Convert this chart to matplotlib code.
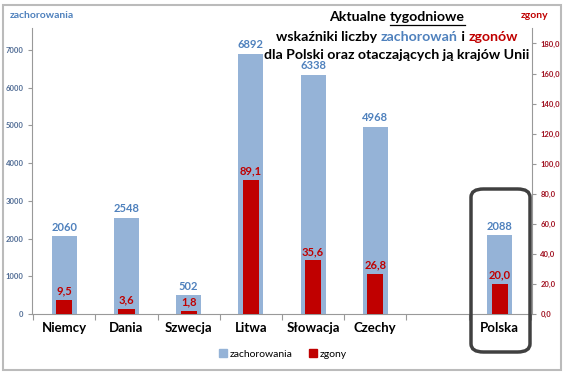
import matplotlib
matplotlib.use("Agg")
import matplotlib.pyplot as plt
from matplotlib.patches import FancyBboxPatch, Rectangle
import numpy as np

categories = ["Niemcy", "Dania", "Szwecja", "Litwa", "Słowacja", "Czechy", "", "Polska"]
cases = [2060, 2548, 502, 6892, 6338, 4968, None, 2088]
deaths = [9.5, 3.6, 1.8, 89.1, 35.6, 26.8, None, 20.0]
left_ticks = [0, 1000, 2000, 3000, 4000, 5000, 6000, 7000]
right_ticks = [0, 20, 40, 60, 80, 100, 120, 140, 160, 180]

BLUE_BAR = "#95B3D7"
RED_BAR = "#C00000"
BLUE_TXT = "#4F81BD"
RED_TXT = "#C00000"
FONT = "Lato"

plt.rcParams['font.family'] = [FONT, 'DejaVu Sans']

fig = plt.figure(figsize=(5.64, 3.73), dpi=100)
W, H = 564, 373
ax = fig.add_axes([32 / W, 1 - 314 / H, 500 / W, (314 - 28) / H])
ax2 = ax.twinx()

x = np.arange(len(categories))
cx = [i for i, v in enumerate(cases) if v is not None]
cv = [v for v in cases if v is not None]
dv = [deaths[i] for i in cx]

ax.bar(cx, cv, width=0.40, color=BLUE_BAR, zorder=2)
ax2.bar(cx, dv, width=0.26, color=RED_BAR, zorder=3)

for i, v in zip(cx, cv):
    ax.annotate(str(v), (i, v), xytext=(0, 2.5), textcoords="offset points",
                ha="center", va="bottom", color=BLUE_TXT, fontsize=8, fontweight="bold")
for i, v in zip(cx, dv):
    ax2.annotate(f"{v:.1f}".replace(".", ","), (i, v), xytext=(0, 2.5), textcoords="offset points",
                 ha="center", va="bottom", color=RED_TXT, fontsize=8, fontweight="bold")

ax.set_xlim(-0.52, 7.52)
ax.set_ylim(0, 7580)
ax2.set_ylim(0, 190.3)

ax.set_yticks(left_ticks)
ax.set_yticklabels([str(t) for t in left_ticks], color="#4F6B94", fontsize=5.5, fontweight="bold")
ax2.set_yticks(right_ticks)
ax2.set_yticklabels([f"{t:.1f}".replace(".", ",") for t in right_ticks], color="#A01020",
                    fontsize=5.5, fontweight="bold")
ax.set_xticks(x)
ax.set_xticklabels(categories, fontsize=9.5, fontweight="bold")
ax.set_xticks(np.arange(-0.5, len(categories), 1.0), minor=True)
ax.tick_params(axis="x", which="major", length=0, pad=6)
ax.tick_params(axis="x", which="minor", length=4, color="#999999", width=0.8)
ax.tick_params(axis="y", length=3, color="#999999", width=0.8, pad=3)
ax2.tick_params(axis="y", length=3, color="#999999", width=0.8, pad=3)

for a in (ax, ax2):
    a.spines["top"].set_visible(False)
    a.patch.set_visible(False)
ax.spines["right"].set_visible(False)
ax2.spines["left"].set_visible(False)
ax2.spines["bottom"].set_visible(False)
ax.spines["left"].set_color("#999999")
ax.spines["bottom"].set_color("#999999")
ax2.spines["right"].set_color("#999999")

# axis titles
fig.text(10 / W, 1 - 15 / H, "zachorowania", color=BLUE_TXT, fontsize=7.5, fontweight="bold",
         ha="left", va="center")
fig.text(535 / W, 1 - 15 / H, "zgony", color=RED_TXT, fontsize=7.5, fontweight="bold",
         ha="center", va="center")

# legend
leg_handles = [Rectangle((0, 0), 1, 1, color=BLUE_BAR), Rectangle((0, 0), 1, 1, color=RED_BAR)]
fig.legend(leg_handles, ["zachorowania", "zgony"], loc="center", bbox_to_anchor=(283 / W, 1 - 354 / H),
           ncol=2, frameon=False, fontsize=7.5, handlelength=0.8, handleheight=0.8,
           handletextpad=0.3, columnspacing=1.5)

# rounded box around Polska
box = FancyBboxPatch((471 / W, 1 - 352 / H), 59 / W, 163 / H,
                     boxstyle="round,pad=0,rounding_size=0.022", transform=fig.transFigure,
                     fill=False, edgecolor="#404040", linewidth=2.5, zorder=5)
fig.patches.append(box)

# outer frame
frame = Rectangle((3 / W, 3 / H), 558 / W, 365 / H, transform=fig.transFigure, fill=False,
                  edgecolor="#BBBBBB", linewidth=1.5)
fig.patches.append(frame)

# title with colored parts
fig.canvas.draw()
renderer = fig.canvas.get_renderer()
tfs = 10.2

def colored_line(parts, ycen, xcen):
    texts = []
    widths = []
    for s, c in parts:
        t = fig.text(0, 0, s, color=c, fontsize=tfs, fontweight="bold", va="center", ha="left")
        bb = t.get_window_extent(renderer)
        texts.append(t)
        widths.append(bb.width)
    total = sum(widths)
    xpos = xcen - total / 2
    res = []
    for t, w in zip(texts, widths):
        t.set_position((xpos / W, 1 - ycen / H))
        res.append((xpos, w))
        xpos += w
    return res

pos = colored_line([("Aktualne ", "black"), ("tygodniowe", "black")], 17, 397)
ux, uw = pos[1]
fig.add_artist(plt.Line2D([ux / W, (ux + uw) / W], [1 - 25 / H, 1 - 25 / H],
                          color="black", linewidth=0.9, transform=fig.transFigure))
colored_line([("wskaźniki liczby ", "black"), ("zachorowań", BLUE_TXT), (" i ", "black"),
              ("zgonów", RED_TXT)], 37, 397)
colored_line([("dla Polski oraz otaczających ją krajów Unii", "black")], 55, 397)

fig.savefig("out.png", dpi=100)
